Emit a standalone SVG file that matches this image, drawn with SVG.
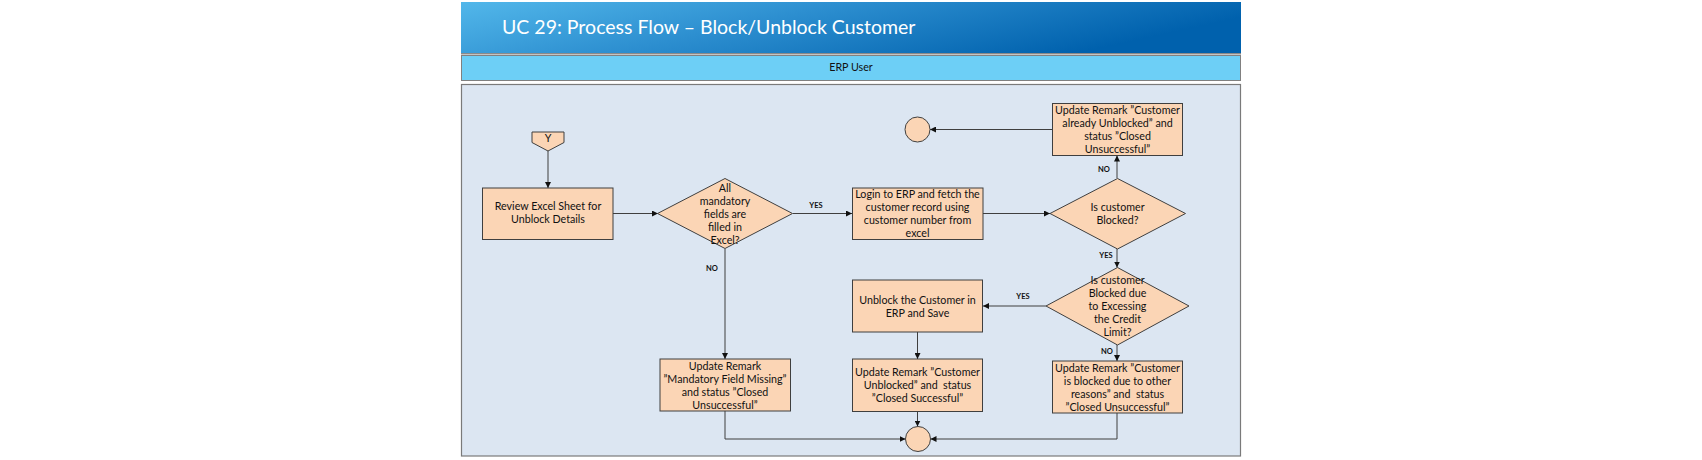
<svg xmlns="http://www.w3.org/2000/svg" width="1702" height="460" viewBox="0 0 1702 460">
<style>
.sh{fill:#fbd5b5;stroke:#3f3f3f;stroke-width:1}
.t{font-family:Lato,"Liberation Sans",sans-serif;font-size:10.7px;fill:#111;text-anchor:middle;white-space:pre}
.lb{font-family:Lato,"Liberation Sans",sans-serif;font-size:7.5px;font-weight:bold;fill:#111;text-anchor:middle}
.c{fill:none;stroke:#3f3f3f;stroke-width:1}
</style>
<defs>
<linearGradient id="hg" x1="0" y1="0" x2="1" y2="0.3">
<stop offset="0" stop-color="#52b7ea"/>
<stop offset="0.45" stop-color="#2d8fd0"/>
<stop offset="1" stop-color="#0061ad"/>
</linearGradient>
<marker id="ar" viewBox="0 0 10 10" refX="10" refY="5" markerWidth="6" markerHeight="6" markerUnits="userSpaceOnUse" orient="auto">
<path d="M0,0 L10,5 L0,10 z" fill="#111"/>
</marker>
</defs>
<rect width="1702" height="460" fill="#ffffff"/>
<g id="header">
<rect x="461" y="2" width="780" height="51" fill="url(#hg)"/>
<rect x="461" y="53" width="780" height="1.5" fill="#8a8a8a"/>
<text x="502" y="34" font-family="Lato,'Liberation Sans',sans-serif" font-size="19.5px" fill="#ffffff">UC 29: Process Flow – Block/Unblock Customer</text>
</g>
<g id="lane-header">
<rect x="461.5" y="55.5" width="779" height="25" fill="#6dcff6" stroke="#808080" stroke-width="1"/>
<text x="851" y="71" class="t" font-size="10px">ERP User</text>
</g>
<g id="lane-body">
<rect x="461.5" y="84.5" width="779" height="371.5" fill="#dce6f2" stroke="#7a7a7a" stroke-width="1.2"/>
</g>
<g id="connectors">
<line class="c" x1="548" y1="151" x2="548" y2="188" marker-end="url(#ar)"/>
<line class="c" x1="613" y1="213.5" x2="658" y2="213.5" marker-end="url(#ar)"/>
<line class="c" x1="793" y1="213.5" x2="852" y2="213.5" marker-end="url(#ar)"/>
<text class="lb" x="816" y="208">YES</text>
<line class="c" x1="725" y1="249" x2="725" y2="359" marker-end="url(#ar)"/>
<text class="lb" x="712" y="271">NO</text>
<line class="c" x1="983" y1="213.5" x2="1050" y2="213.5" marker-end="url(#ar)"/>
<line class="c" x1="1117" y1="178" x2="1117" y2="155.5" marker-end="url(#ar)"/>
<text class="lb" x="1104" y="172">NO</text>
<line class="c" x1="1052" y1="129.5" x2="930" y2="129.5" marker-end="url(#ar)"/>
<line class="c" x1="1117" y1="249" x2="1117" y2="267.5" marker-end="url(#ar)"/>
<text class="lb" x="1106" y="258">YES</text>
<line class="c" x1="1046" y1="306" x2="983" y2="306" marker-end="url(#ar)"/>
<text class="lb" x="1023" y="299">YES</text>
<line class="c" x1="1117" y1="345" x2="1117" y2="361" marker-end="url(#ar)"/>
<text class="lb" x="1107" y="354">NO</text>
<line class="c" x1="917.5" y1="332" x2="917.5" y2="359" marker-end="url(#ar)"/>
<line class="c" x1="917.5" y1="411.5" x2="917.5" y2="426.5" marker-end="url(#ar)"/>
<polyline class="c" points="725,411 725,439 905.5,439" marker-end="url(#ar)"/>
<polyline class="c" points="1117,413 1117,439 930.5,439" marker-end="url(#ar)"/>
</g>
<g id="start-Y">
<path class="sh" d="M532,132 L564,132 L564,142.5 L548,151 L532,142.5 Z"/>
<text class="t" x="548" y="142" font-size="10px">Y</text>
</g>
<g id="review">
<rect class="sh" x="482.5" y="188" width="130.5" height="51.5"/>
<text class="t" x="548" y="210">Review Excel Sheet for</text>
<text class="t" x="548" y="223">Unblock Details</text>
</g>
<g id="check-mandatory">
<path class="sh" d="M725,178.5 L792.5,213.5 L725,248.5 L657.5,213.5 Z"/>
<text class="t" x="725" y="191.5">All</text>
<text class="t" x="725" y="204.5">mandatory</text>
<text class="t" x="725" y="217.5">fields are</text>
<text class="t" x="725" y="230.5">filled in</text>
<text class="t" x="725" y="243.5">Excel?</text>
</g>
<g id="login">
<rect class="sh" x="852.5" y="188" width="130.5" height="51.5"/>
<text class="t" x="917.5" y="198">Login to ERP and fetch the</text>
<text class="t" x="917.5" y="211">customer record using</text>
<text class="t" x="917.5" y="224">customer number from</text>
<text class="t" x="917.5" y="237">excel</text>
</g>
<g id="check-blocked">
<path class="sh" d="M1117.5,178.5 L1185.5,213.5 L1117.5,249 L1050,213.5 Z"/>
<text class="t" x="1117.5" y="211">Is customer</text>
<text class="t" x="1117.5" y="224">Blocked?</text>
</g>
<g id="already-unblocked">
<rect class="sh" x="1052.5" y="103.5" width="130" height="52"/>
<text class="t" x="1117.5" y="114">Update Remark ”Customer</text>
<text class="t" x="1117.5" y="127">already Unblocked” and</text>
<text class="t" x="1117.5" y="140">status ”Closed</text>
<text class="t" x="1117.5" y="153">Unsuccessful”</text>
</g>
<g id="end-top">
<circle class="sh" cx="917.5" cy="129.5" r="12.5"/>
</g>
<g id="check-credit">
<path class="sh" d="M1117.5,267.5 L1189,306 L1117.5,345 L1046,306 Z"/>
<text class="t" x="1117.5" y="283.5">Is customer</text>
<text class="t" x="1117.5" y="296.5">Blocked due</text>
<text class="t" x="1117.5" y="309.5">to Excessing</text>
<text class="t" x="1117.5" y="322.5">the Credit</text>
<text class="t" x="1117.5" y="335.5">Limit?</text>
</g>
<g id="unblock">
<rect class="sh" x="852.5" y="280" width="130" height="52"/>
<text class="t" x="917.5" y="303.5">Unblock the Customer in</text>
<text class="t" x="917.5" y="316.5">ERP and Save</text>
</g>
<g id="closed-successful">
<rect class="sh" x="852.5" y="359" width="130" height="52.5"/>
<text class="t" x="917.5" y="376">Update Remark ”Customer</text>
<text class="t" x="917.5" y="389" xml:space="preserve">Unblocked” and  status</text>
<text class="t" x="917.5" y="402">”Closed Successful”</text>
</g>
<g id="mandatory-missing">
<rect class="sh" x="660" y="359" width="130.5" height="52"/>
<text class="t" x="725" y="369.5">Update Remark</text>
<text class="t" x="725" y="382.5">”Mandatory Field Missing”</text>
<text class="t" x="725" y="395.5">and status ”Closed</text>
<text class="t" x="725" y="408.5">Unsuccessful”</text>
</g>
<g id="other-reasons">
<rect class="sh" x="1052.5" y="361" width="130" height="52"/>
<text class="t" x="1117.5" y="371.5">Update Remark ”Customer</text>
<text class="t" x="1117.5" y="384.5">is blocked due to other</text>
<text class="t" x="1117.5" y="397.5" xml:space="preserve">reasons” and  status</text>
<text class="t" x="1117.5" y="410.5">”Closed Unsuccessful”</text>
</g>
<g id="end-bottom">
<circle class="sh" cx="918" cy="439" r="12.5"/>
</g>
</svg>
